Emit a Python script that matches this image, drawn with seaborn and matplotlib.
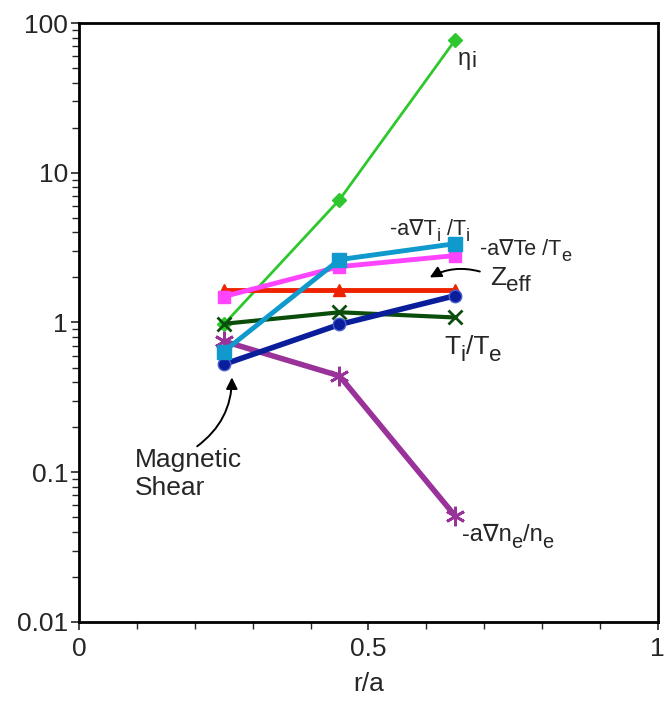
import matplotlib
matplotlib.use("Agg")
import matplotlib.pyplot as plt
import seaborn as sns
import numpy as np
import pandas as pd
from matplotlib.ticker import LogLocator, FixedLocator, FuncFormatter, NullFormatter, MultipleLocator

r_a = [0.25, 0.45, 0.65]
eta_i = [0.97, 6.6, 77]
grad_ti = [0.64, 2.63, 3.36]
grad_te = [1.49, 2.36, 2.8]
zeff = [1.65, 1.65, 1.65]
ti_te = [0.98, 1.17, 1.08]
mag_shear = [0.525, 0.97, 1.51]
grad_ne = [0.75, 0.44, 0.051]

sns.set_style("white")
plt.rcParams['font.family'] = ['Liberation Sans', 'DejaVu Sans']

fig = plt.figure(figsize=(6.65, 7.08), dpi=100)
ax = fig.add_axes([0.119, 0.1215, 0.870, 0.846])

series = [
    ("eta", eta_i, "#2ec82e", "D", 2.0, 7, None),
    ("zeff", zeff, "#ee2200", "^", 3.5, 9, None),
    ("te", grad_te, "#ff44ff", "s", 3.5, 9, None),
    ("ti_te", ti_te, "#0b4d0b", "x", 3.0, 10, None),
    ("ne", grad_ne, "#993399", (6, 2, 0), 4.0, 14, None),
    ("shear", mag_shear, "#0a1e9c", "o", 4.0, 9, "#4a5fd0"),
    ("ti", grad_ti, "#0f99cc", "s", 3.5, 10, None),
]
for name, vals, col, mk, lw, ms, mec in series:
    df = pd.DataFrame({"x": r_a, "y": vals})
    sns.lineplot(data=df, x="x", y="y", ax=ax, color=col, marker=mk, lw=lw,
                 markersize=ms, markeredgecolor=mec if mec else col,
                 markeredgewidth=2 if mk in ("x", (6, 2, 0)) else 1)

ax.set_yscale("log")
ax.set_xlim(0, 1)
ax.set_ylim(0.01, 100)
ax.xaxis.set_major_locator(FixedLocator([0, 0.5, 1]))
ax.xaxis.set_minor_locator(MultipleLocator(0.1))
ax.xaxis.set_major_formatter(FuncFormatter(lambda v, p: "%g" % v))
ax.yaxis.set_major_locator(FixedLocator([0.01, 0.1, 1, 10, 100]))
ax.yaxis.set_major_formatter(FuncFormatter(lambda v, p: "%g" % v))
ax.yaxis.set_minor_locator(LogLocator(base=10, subs=np.arange(2, 10)))
ax.yaxis.set_minor_formatter(NullFormatter())
ax.tick_params(axis="both", which="major", direction="out", length=6, width=1.2,
               labelsize=19, pad=2, left=True, bottom=True)
ax.tick_params(axis="both", which="minor", direction="out", length=5, width=1.0,
               left=True, bottom=True)
ax.tick_params(axis="x", pad=5)
for s in ax.spines.values():
    s.set_color("black")
    s.set_linewidth(2)
ax.set_xlabel("r/a", fontsize=19, labelpad=8)
ax.set_ylabel("")


def rich(x, y, parts, fs, sub_scale=0.85, shift=0.28):
    """Draw text made of normal ('n') and subscript ('s') pieces, left/baseline at (x, y)."""
    t0 = ax.text(x, y, parts[0][0], fontsize=fs, ha="left", va="baseline")
    prev = t0
    for txt, kind in parts[1:]:
        if kind == "s":
            fss = fs * sub_scale
            dy = -shift * fs + 0.21 * (fs - fss)
        else:
            fss = fs
            dy = 0
        prev = ax.annotate(txt, xy=(1, 0), xycoords=(prev, t0), xytext=(0, dy),
                           textcoords="offset points", fontsize=fss,
                           ha="left", va="bottom", annotation_clip=False)
    return t0


rich(0.655, 52.5, [("\u03b7", "n"), ("i", "s")], 17, sub_scale=0.95, shift=0.12)
rich(0.537, 3.86, [("-a\u2207T", "n"), ("i", "s"), (" /T", "n"), ("i", "s")], 15.5)
rich(0.6926, 2.84, [("-a\u2207Te /T", "n"), ("e", "s")], 15.5)
rich(0.71, 1.79, [("Z", "n"), ("eff", "s")], 19)
rich(0.632, 0.612, [("T", "n"), ("i", "s"), ("/T", "n"), ("e", "s")], 19)
rich(0.6615, 0.0347, [("-a\u2207n", "n"), ("e", "s"), ("/n", "n"), ("e", "s")], 17)
ax.text(0.0967, 0.108, "Magnetic", fontsize=19, ha="left", va="baseline")
ax.text(0.0967, 0.071, "Shear", fontsize=19, ha="left", va="baseline")

arrow = dict(arrowstyle="-|>", color="black", lw=1.4, shrinkA=0, shrinkB=0,
             mutation_scale=17)
ax.annotate("", xy=(0.606, 2.0), xytext=(0.6926, 2.19),
            arrowprops=dict(arrow, connectionstyle="arc3,rad=0.2"))
ax.annotate("", xy=(0.264, 0.43), xytext=(0.204, 0.149),
            arrowprops=dict(arrow, connectionstyle="arc3,rad=0.25"))

fig.savefig("out.png", dpi=100)
